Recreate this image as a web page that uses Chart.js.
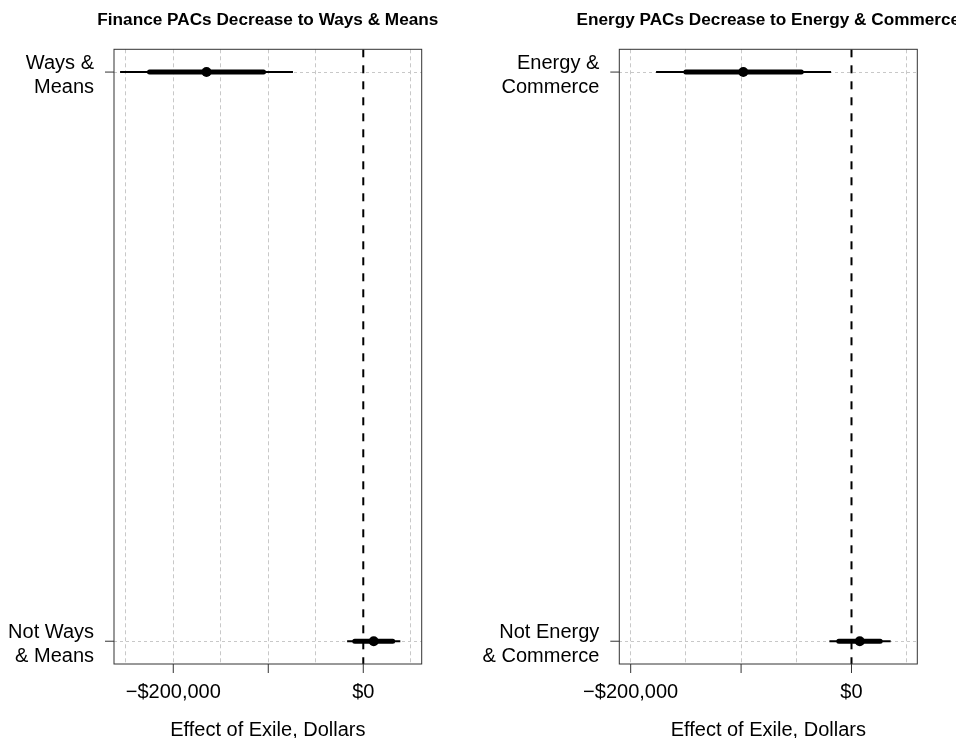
<!DOCTYPE html>
<html>
<head>
<meta charset="utf-8">
<script src="https://cdn.jsdelivr.net/npm/chart.js@4"></script>
<style>
  html, body { margin: 0; padding: 0; background: #fff; }
  #wrap { position: relative; width: 956px; height: 738px; overflow: hidden; }
  canvas { position: absolute; top: 0; }
  #financeChart { left: 0; }
  #energyChart { left: 478px; }
</style>
</head>
<body>
<div id="wrap">
  <canvas id="financeChart" width="478" height="738"></canvas>
  <canvas id="energyChart" width="478" height="738"></canvas>
</div>
<script>
// left panel
const financeTitle = 'Finance PACs Decrease to Ways & Means';
const financeRows = [['Ways &', 'Means'], ['Not Ways', '& Means']];
const financeEstimate = [-165000, 11000];
const financeLow95 = [-256000, -17000];
const financeHigh95 = [-74000, 39000];
const financeLow90 = [-225000, -9000];
const financeHigh90 = [-105000, 31000];

// right panel
const energyTitle = 'Energy PACs Decrease to Energy & Commerce';
const energyRows = [['Energy &', 'Commerce'], ['Not Energy', '& Commerce']];
const energyEstimate = [-98000, 7500];
const energyLow95 = [-177000, -20000];
const energyHigh95 = [-18500, 35500];
const energyLow90 = [-150000, -11500];
const energyHigh90 = [-45500, 26000];

// axis
const xTickValues = [-200000, -100000, 0];
const xTickLabels = ['\u2212$200,000', '', '$0'];
const xGridValues = [-250000, -200000, -150000, -100000, -50000, 0, 50000];
const xAxisTitle = 'Effect of Exile, Dollars';

const FONT = "'Liberation Sans', Arial, sans-serif";
const GRID = '#c8c8c8';
const Y_MIN = -0.04, Y_MAX = 1.04;

// box round the plot, R style tick marks outside it, and the title
// centred on the plot box (the right one runs off the page like the original)
const framePlugin = {
  id: 'frame',
  afterDraw(chart, args, opts) {
    const { ctx, chartArea: a, scales: { x, y } } = chart;
    ctx.save();
    ctx.strokeStyle = '#333';
    ctx.lineWidth = 1;
    ctx.strokeRect(a.left, a.top, a.right - a.left, a.bottom - a.top);
    ctx.beginPath();
    xTickValues.forEach(v => {
      const px = x.getPixelForValue(v);
      ctx.moveTo(px, a.bottom);
      ctx.lineTo(px, a.bottom + 9);
    });
    y.ticks.forEach(t => {
      const py = y.getPixelForValue(t.value);
      ctx.moveTo(a.left - 9, py);
      ctx.lineTo(a.left, py);
    });
    ctx.stroke();

    ctx.fillStyle = '#000';
    ctx.font = 'bold 17.2px ' + FONT;
    ctx.textAlign = 'center';
    ctx.textBaseline = 'middle';
    ctx.fillText(opts.text, (a.left + a.right) / 2, 20);
    ctx.restore();
  }
};

function makePanel(id, title, rows, est, lo95, hi95, lo90, hi90, xMin, xMax, axisWidth, padRight) {
  const datasets = [{
    data: [{ x: 0, y: Y_MIN }, { x: 0, y: Y_MAX }],
    showLine: true, borderColor: '#000', borderWidth: 2, borderDash: [8, 8],
    pointRadius: 0, order: 3
  }];
  rows.forEach((r, i) => {
    datasets.push({
      data: [{ x: lo95[i], y: i }, { x: hi95[i], y: i }],
      showLine: true, borderColor: '#000', borderWidth: 2, borderCapStyle: 'butt',
      pointRadius: 0, order: 2
    });
    datasets.push({
      data: [{ x: lo90[i], y: i }, { x: hi90[i], y: i }],
      showLine: true, borderColor: '#000', borderWidth: 5, borderCapStyle: 'round',
      pointRadius: 0, order: 1
    });
  });
  datasets.push({
    data: est.map((v, i) => ({ x: v, y: i })),
    pointRadius: 5, pointBackgroundColor: '#000', pointBorderWidth: 0, order: 0
  });

  return new Chart(document.getElementById(id), {
    type: 'scatter',
    data: { datasets },
    plugins: [framePlugin],
    options: {
      responsive: false,
      animation: false,
      devicePixelRatio: 1,
      layout: { padding: { left: 0, right: padRight, top: 49.3, bottom: 0 } },
      plugins: {
        legend: { display: false },
        tooltip: { enabled: false },
        title: { display: false },
        frame: { text: title }
      },
      scales: {
        x: {
          type: 'linear',
          min: xMin,
          max: xMax,
          afterBuildTicks: s => {
            s.ticks = xGridValues.filter(v => v >= xMin && v <= xMax).map(v => ({ value: v }));
          },
          afterFit: s => { s.height = 74; },
          ticks: {
            autoSkip: false,
            maxRotation: 0,
            padding: 16,
            color: '#000',
            font: { family: FONT, size: 20 },
            callback: v => {
              const k = xTickValues.indexOf(v);
              return k < 0 ? '' : xTickLabels[k];
            }
          },
          grid: {
            drawTicks: false,
            lineWidth: 1,
            color: c => (c.tick && c.tick.value === 0) ? 'rgba(0,0,0,0)' : GRID
          },
          border: { display: false, dash: [4, 3] },
          title: {
            display: true,
            text: xAxisTitle,
            color: '#000',
            font: { family: FONT, size: 20 },
            padding: { top: 0, bottom: -4 }
          }
        },
        y: {
          type: 'linear',
          reverse: true,
          min: Y_MIN,
          max: Y_MAX,
          afterBuildTicks: s => { s.ticks = rows.map((r, i) => ({ value: i })); },
          afterFit: s => { s.width = axisWidth; },
          ticks: {
            autoSkip: false,
            padding: 20,
            labelOffset: 3,
            color: '#000',
            font: { family: FONT, size: 20, lineHeight: 1.2 },
            callback: v => rows[v]
          },
          grid: { drawTicks: false, lineWidth: 1, color: GRID },
          border: { display: false, dash: [3, 3] }
        }
      }
    }
  });
}

makePanel('financeChart', financeTitle, financeRows, financeEstimate,
  financeLow95, financeHigh95, financeLow90, financeHigh90,
  -262400, 61500, 114, 478 - 421.7);
makePanel('energyChart', energyTitle, energyRows, energyEstimate,
  energyLow95, energyHigh95, energyLow90, energyHigh90,
  -210300, 59600, 141.3, 478 - 439.3);
</script>
</body>
</html>
